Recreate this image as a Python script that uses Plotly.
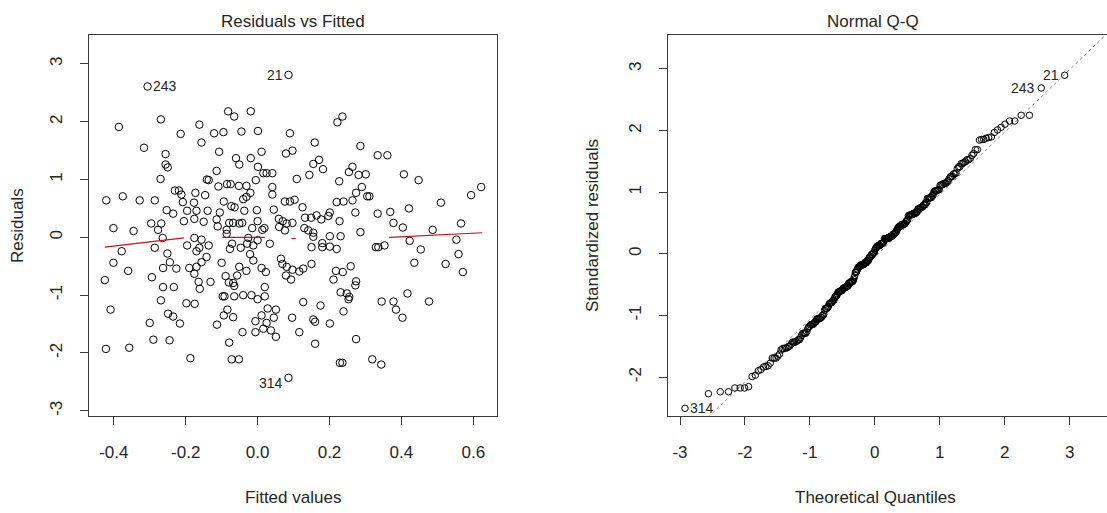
import numpy as np
from statistics import NormalDist
import plotly.graph_objects as go

# ---------------- data ----------------
FITTED = [
    -0.306, 0.086, 0.086, -0.082, -0.065, -0.019, 0.222, 0.236, -0.269, -0.386,
    -0.162, -0.214, -0.121, -0.095, -0.045, 0.001, 0.090, -0.156, 0.159, -0.316,
    0.286, -0.107, 0.011, 0.079, 0.097, -0.256, 0.334, 0.361, -0.060, -0.019,
    0.171, -0.051, 0.155, -0.256, -0.250, 0.264, 0.182, 0.001, -0.114, 0.016,
    0.025, 0.041, 0.254, 0.281, 0.301, 0.407, 0.144, -0.270, -0.141, -0.136,
    0.109, -0.005, 0.227, 0.448, 0.622, 0.594, -0.109, -0.085, -0.075, -0.052,
    -0.031, 0.041, 0.290, -0.230, -0.219, -0.212, -0.173, -0.146, -0.020, 0.041,
    0.274, 0.305, 0.311, -0.375, -0.421, -0.328, -0.286, -0.208, -0.177, -0.094,
    -0.040, -0.031, 0.076, 0.090, 0.103, 0.220, 0.239, 0.264, 0.510, -0.073,
    -0.064, 0.045, 0.125, 0.421, -0.253, -0.235, -0.196, -0.170, -0.139, -0.105,
    -0.037, -0.002, 0.272, 0.334, 0.369, 0.201, 0.164, 0.177, 0.149, 0.197,
    0.132, 0.059, -0.205, -0.176, -0.150, -0.114, -0.079, -0.068, -0.051, -0.043,
    0.000, 0.070, 0.081, 0.097, 0.228, 0.378, 0.566, -0.296, -0.268, -0.401,
    -0.345, -0.277, -0.111, -0.086, -0.015, 0.013, 0.019, 0.060, 0.076, 0.130,
    0.141, 0.155, 0.404, 0.286, 0.487, -0.264, -0.176, -0.156, -0.086, -0.026,
    0.000, -0.071, 0.034, 0.155, 0.201, 0.231, 0.180, 0.423, 0.553, -0.286,
    -0.378, -0.196, -0.162, -0.136, -0.077, -0.047, -0.029, -0.012, 0.150, 0.180,
    0.201, 0.220, 0.329, 0.336, 0.353, 0.454, 0.559, -0.251, -0.170, -0.142,
    -0.021, -0.012, -0.100, -0.401, -0.244, -0.156, 0.065, 0.069, 0.150, 0.436,
    0.523, -0.360, -0.263, -0.226, -0.190, -0.170, -0.051, -0.031, 0.011, 0.023,
    0.081, 0.097, 0.116, 0.127, 0.259, 0.571, -0.294, -0.176, -0.089, -0.057,
    0.079, 0.093, 0.211, 0.218, 0.237, -0.425, -0.164, -0.131, -0.080, -0.068,
    0.274, 0.272, -0.263, -0.233, -0.161, -0.065, 0.020, 0.231, 0.248, 0.417,
    -0.097, -0.092, -0.065, -0.040, -0.017, 0.000, 0.020, 0.255, 0.253, -0.269,
    0.345, 0.378, 0.477, 0.127, -0.198, -0.175, 0.175, -0.409, -0.084, 0.028,
    0.051, 0.385, 0.239, -0.249, -0.235, -0.068, -0.094, 0.011, 0.096, 0.155,
    0.160, 0.403, 0.045, -0.006, -0.300, -0.216, -0.113, 0.025, 0.201, 0.016,
    0.037, -0.042, -0.006, 0.116, 0.051, -0.290, -0.245, 0.274, -0.079, 0.160,
    -0.422, -0.357, -0.187, -0.072, -0.052, 0.229, 0.236, 0.319, 0.344,
]
RESIDUALS = [
    2.61, 2.81, -2.43, 2.18, 2.09, 2.18, 1.99, 2.09, 2.04, 1.91,
    1.95, 1.79, 1.80, 1.82, 1.83, 1.84, 1.80, 1.64, 1.64, 1.55,
    1.58, 1.48, 1.48, 1.45, 1.50, 1.44, 1.42, 1.42, 1.37, 1.37,
    1.34, 1.26, 1.27, 1.26, 1.21, 1.22, 1.18, 1.22, 1.15, 1.11,
    1.11, 1.11, 1.13, 1.08, 1.09, 1.09, 1.08, 1.01, 1.00, 0.99,
    1.01, 0.99, 0.97, 0.99, 0.87, 0.73, 0.88, 0.92, 0.92, 0.89,
    0.89, 0.87, 0.87, 0.81, 0.81, 0.74, 0.77, 0.73, 0.77, 0.74,
    0.77, 0.71, 0.71, 0.71, 0.64, 0.64, 0.64, 0.61, 0.60, 0.62,
    0.66, 0.70, 0.62, 0.62, 0.65, 0.61, 0.62, 0.64, 0.60, 0.54,
    0.52, 0.48, 0.52, 0.50, 0.47, 0.41, 0.46, 0.46, 0.46, 0.43,
    0.46, 0.47, 0.43, 0.41, 0.44, 0.43, 0.38, 0.31, 0.34, 0.37,
    0.34, 0.32, 0.28, 0.32, 0.27, 0.31, 0.25, 0.25, 0.24, 0.25,
    0.28, 0.28, 0.24, 0.25, 0.28, 0.25, 0.24, 0.24, 0.24, 0.16,
    0.11, 0.13, 0.19, 0.13, 0.16, 0.13, 0.16, 0.18, 0.12, 0.16,
    0.12, 0.08, 0.17, 0.09, 0.13, -0.01, -0.01, -0.04, 0.06, -0.01,
    -0.05, -0.11, -0.11, 0.01, 0.02, 0.02, -0.10, -0.06, -0.04, -0.18,
    -0.24, -0.14, -0.18, -0.14, -0.20, -0.18, -0.11, -0.14, -0.17, -0.17,
    -0.16, -0.20, -0.17, -0.17, -0.14, -0.21, -0.29, -0.28, -0.24, -0.34,
    -0.29, -0.40, -0.44, -0.44, -0.43, -0.43, -0.37, -0.46, -0.46, -0.44,
    -0.46, -0.58, -0.53, -0.54, -0.53, -0.51, -0.51, -0.58, -0.53, -0.60,
    -0.51, -0.56, -0.59, -0.54, -0.50, -0.60, -0.69, -0.63, -0.67, -0.66,
    -0.66, -0.73, -0.73, -0.58, -0.60, -0.74, -0.77, -0.77, -0.78, -0.79,
    -0.76, -0.83, -0.86, -0.86, -0.89, -0.84, -0.86, -0.95, -0.97, -0.97,
    -1.02, -1.02, -1.02, -1.00, -1.00, -1.07, -1.02, -1.03, -1.07, -1.09,
    -1.11, -1.11, -1.11, -1.12, -1.14, -1.15, -1.18, -1.25, -1.25, -1.23,
    -1.25, -1.25, -1.28, -1.32, -1.37, -1.38, -1.35, -1.35, -1.39, -1.42,
    -1.46, -1.39, -1.39, -1.45, -1.48, -1.49, -1.51, -1.48, -1.49, -1.58,
    -1.61, -1.64, -1.64, -1.64, -1.72, -1.77, -1.78, -1.76, -1.82, -1.84,
    -1.93, -1.91, -2.09, -2.11, -2.11, -2.17, -2.17, -2.11, -2.20,
]
# observation ids of the three labelled points (positions in the lists above)
LABELS = {0: "243", 1: "21", 2: "314"}

# residual scale used for standardising
RESIDUAL_SCALE = 0.97

# reference line of the Q-Q panel
QQ_LINE_INTERCEPT = -0.05
QQ_LINE_SLOPE = 1.013

# red smoother as it shows in the picture (None = visible gap)
SMOOTH_X = [-0.425, -0.205, None, -0.098, 0.020, None, 0.094, 0.106, None, 0.366, 0.625]
SMOOTH_Y = [-0.17, -0.01, None, 0.00, 0.00, None, -0.02, -0.02, None, 0.00, 0.08]

LEFT_XTICKS = [-0.4, -0.2, 0.0, 0.2, 0.4, 0.6]
LEFT_XTICKTEXT = ["-0.4", "-0.2", "0.0", "0.2", "0.4", "0.6"]
LEFT_YTICKS = [-3, -2, -1, 0, 1, 2, 3]
LEFT_YTICKTEXT = ["-3", "-2", "-1", "0", "1", "2", "3"]
RIGHT_XTICKS = [-3, -2, -1, 0, 1, 2, 3]
RIGHT_XTICKTEXT = ["-3", "-2", "-1", "0", "1", "2", "3"]
RIGHT_YTICKS = [-2, -1, 0, 1, 2, 3]
RIGHT_YTICKTEXT = ["-2", "-1", "0", "1", "2", "3"]

# ---------------- derived Q-Q values ----------------
resid = np.array(RESIDUALS)
std_resid = resid / RESIDUAL_SCALE
n = len(std_resid)
order = np.argsort(std_resid)
nd = NormalDist()
theo = np.array([nd.inv_cdf((i - 0.5) / n) for i in range(1, n + 1)])
sample = std_resid[order]
rank_of = {int(idx): r for r, idx in enumerate(order)}

W, H = 1107, 513
FONT = "Liberation Sans, Arial, sans-serif"
TXT = "#262626"
AX = "#3a3a3a"

def px(x):
    return x / W

def py(y):
    return 1 - y / H

fig = go.Figure()

# left panel
fig.add_trace(go.Scatter(
    x=FITTED, y=RESIDUALS, mode="markers", xaxis="x", yaxis="y",
    marker=dict(symbol="circle-open", size=7.5, color="black", line=dict(width=1)),
    showlegend=False, hoverinfo="skip"))
fig.add_trace(go.Scatter(
    x=SMOOTH_X, y=SMOOTH_Y, mode="lines", xaxis="x", yaxis="y",
    line=dict(color="#c8101e", width=1.2), connectgaps=False,
    showlegend=False, hoverinfo="skip"))

# right panel
xline = [-3.3, 3.7]
fig.add_trace(go.Scatter(
    x=xline, y=[QQ_LINE_INTERCEPT + QQ_LINE_SLOPE * v for v in xline], mode="lines",
    xaxis="x2", yaxis="y2",
    line=dict(color="#8c8c8c", width=1, dash="dot"), showlegend=False, hoverinfo="skip"))
fig.add_trace(go.Scatter(
    x=theo, y=sample, mode="markers", xaxis="x2", yaxis="y2",
    marker=dict(symbol="circle-open", size=6.5, color="black", line=dict(width=1)),
    showlegend=False, hoverinfo="skip"))

ann = []
lab_font = dict(family=FONT, size=14, color=TXT)
# labels in the left panel
for idx, txt in LABELS.items():
    x, y = FITTED[idx], RESIDUALS[idx]
    if txt == "243":
        ann.append(dict(x=x, y=y, xref="x", yref="y", text=txt, showarrow=False,
                        xanchor="left", yanchor="middle", xshift=3, font=lab_font))
    elif txt == "21":
        ann.append(dict(x=x, y=y, xref="x", yref="y", text=txt, showarrow=False,
                        xanchor="right", yanchor="middle", xshift=-4, font=lab_font))
    else:
        ann.append(dict(x=x, y=y, xref="x", yref="y", text=txt, showarrow=False,
                        xanchor="right", yanchor="middle", xshift=-4, yshift=-5, font=lab_font))
# labels in the Q-Q panel
for idx, txt in LABELS.items():
    r = rank_of[idx]
    x, y = theo[r], sample[r]
    if txt == "314":
        ann.append(dict(x=x, y=y, xref="x2", yref="y2", text=txt, showarrow=False,
                        xanchor="left", yanchor="middle", xshift=3, font=lab_font))
    else:
        ann.append(dict(x=x, y=y, xref="x2", yref="y2", text=txt, showarrow=False,
                        xanchor="right", yanchor="middle", xshift=-4, font=lab_font))

big = dict(family=FONT, size=17, color=TXT)
ann += [
    dict(x=px(293), y=py(21), xref="paper", yref="paper", text="Residuals vs Fitted",
         showarrow=False, font=big, xanchor="center", yanchor="middle"),
    dict(x=px(873), y=py(21), xref="paper", yref="paper", text="Normal Q-Q",
         showarrow=False, font=big, xanchor="center", yanchor="middle"),
    dict(x=px(293), y=py(497), xref="paper", yref="paper", text="Fitted values",
         showarrow=False, font=big, xanchor="center", yanchor="middle"),
    dict(x=px(875), y=py(497), xref="paper", yref="paper", text="Theoretical Quantiles",
         showarrow=False, font=big, xanchor="center", yanchor="middle"),
    dict(x=px(17), y=py(226), xref="paper", yref="paper", text="Residuals",
         showarrow=False, font=big, textangle=-90, xanchor="center", yanchor="middle"),
    dict(x=px(592), y=py(226), xref="paper", yref="paper", text="Standardized residuals",
         showarrow=False, font=big, textangle=-90, xanchor="center", yanchor="middle"),
]

tickfont = dict(family=FONT, size=17, color=TXT)
common = dict(showgrid=False, zeroline=False, showline=True, linecolor=AX, linewidth=1.3,
              ticks="outside", ticklen=8, tickwidth=1.3, tickcolor=AX, tickfont=tickfont)

ydom = [(H - 416) / H, (H - 35) / H]
fig.update_layout(
    width=W, height=H, margin=dict(l=0, r=0, t=0, b=0),
    paper_bgcolor="white", plot_bgcolor="white",
    xaxis=dict(domain=[89 / W, 497 / W], range=[-0.469, 0.666], anchor="y",
               tickvals=LEFT_XTICKS, ticktext=LEFT_XTICKTEXT, mirror=True,
               ticklabelstandoff=12, **common),
    yaxis=dict(domain=ydom, range=[-3.09, 3.5], anchor="x", tickvals=LEFT_YTICKS,
               ticktext=LEFT_YTICKTEXT, tickangle=-90, mirror=True,
               ticklabelstandoff=11, **common),
    xaxis2=dict(domain=[668 / W, 1.0], range=[-3.185, 3.575], anchor="y2",
                tickvals=RIGHT_XTICKS, ticktext=RIGHT_XTICKTEXT, mirror=True,
                ticklabelstandoff=12, **common),
    yaxis2=dict(domain=ydom, range=[-2.63, 3.55], anchor="x2", tickvals=RIGHT_YTICKS,
                ticktext=RIGHT_YTICKTEXT, tickangle=-90, mirror=False,
                ticklabelstandoff=11, **common),
    annotations=ann,
)

fig.write_html("out.html")
